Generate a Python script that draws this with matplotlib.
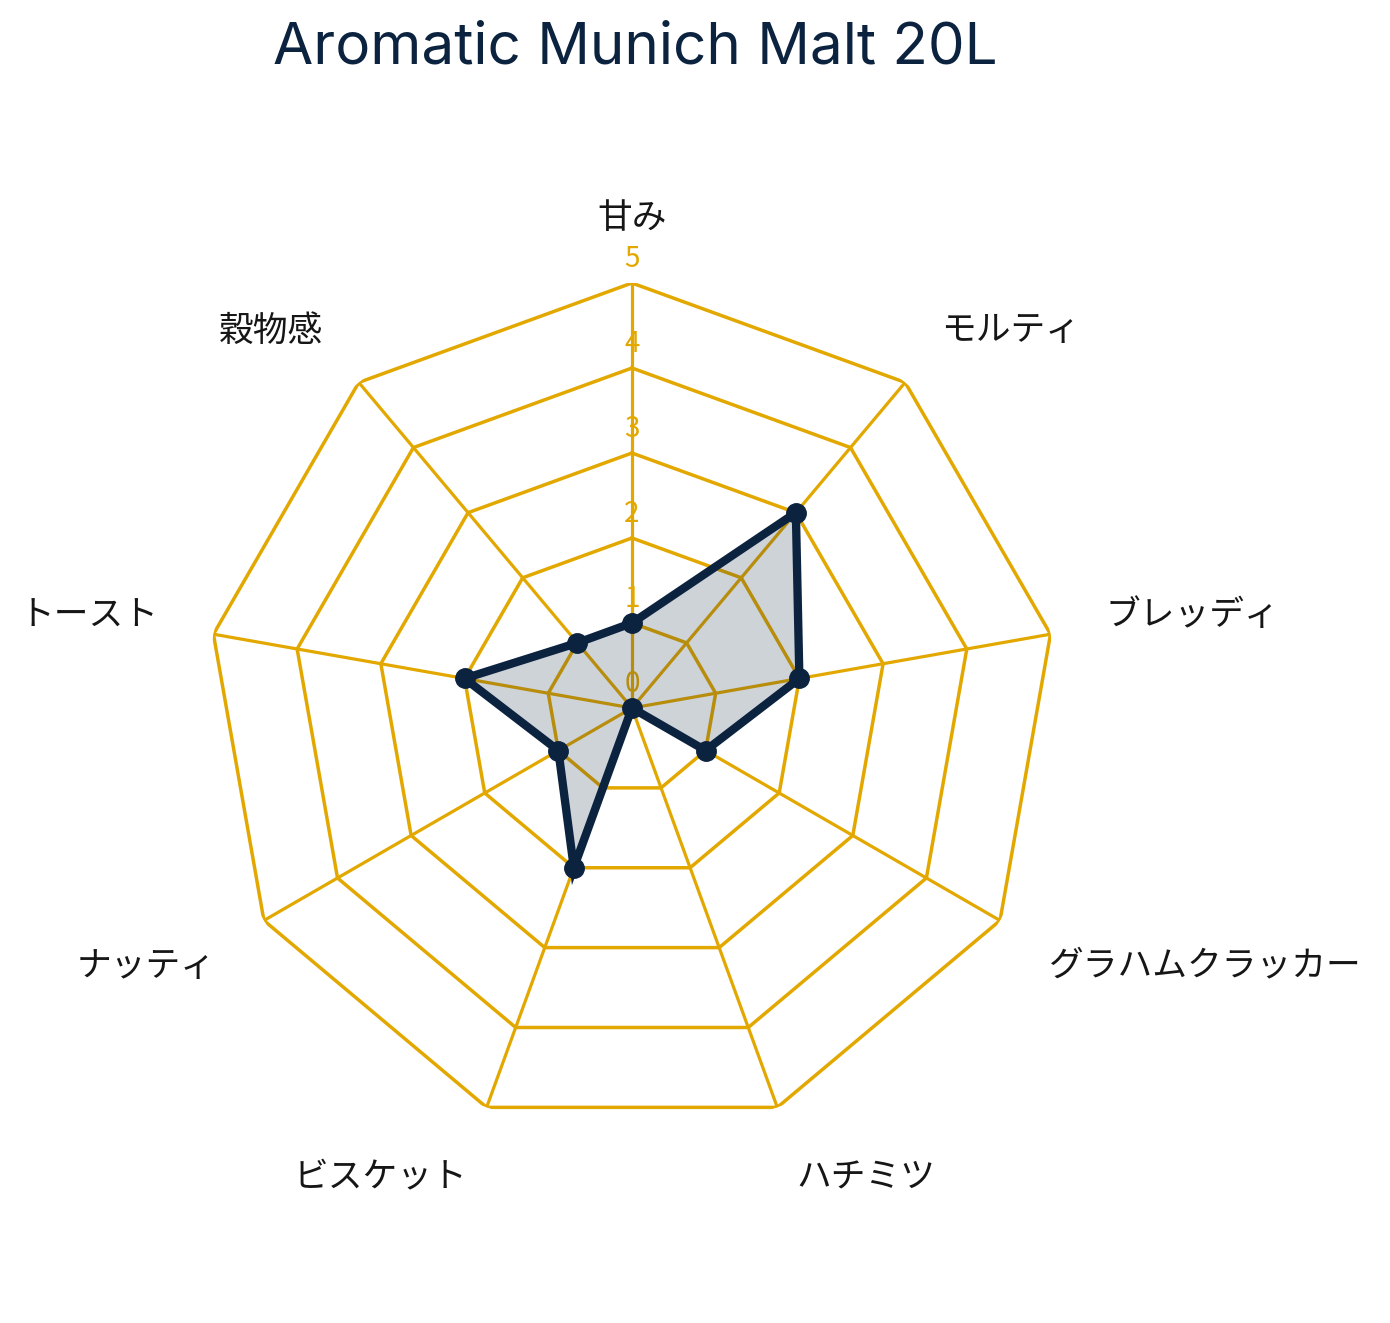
import numpy as np
import matplotlib
matplotlib.use("Agg")
import matplotlib.pyplot as plt

plt.rcParams['font.family'] = ['Noto Sans CJK JP', 'DejaVu Sans']

# data
categories = ['甘み', 'モルティ', 'ブレッディ', 'グラハムクラッカー', 'ハチミツ',
              'ビスケット', 'ナッティ', 'トースト', '穀物感']
values = [1, 3, 2, 1, 0, 2, 1, 2, 1]
levels = [1, 2, 3, 4, 5]
tick_labels = ['0', '1', '2', '3', '4', '5']
title = 'Aromatic Munich Malt 20L'

GOLD = '#E3A800'
NAVY = '#0C2340'
TEXT = '#161616'

n = len(categories)
angles = np.arange(n) * 2 * np.pi / n
closed = np.append(angles, angles[0])

fig = plt.figure(figsize=(13.9, 13.23), dpi=100)
ax = fig.add_axes([0.1489, 0.1436, 0.6115, 0.6425], projection='polar')
ax.set_theta_offset(np.pi / 2)
ax.set_theta_direction(-1)
ax.set_ylim(0, 5)
ax.grid(False)
ax.spines['polar'].set_visible(False)
ax.set_xticks([])
ax.set_yticks([])
ax.patch.set_alpha(0)

# polygon grid
for lv in levels:
    ax.plot(closed, [lv] * (n + 1), color=GOLD, lw=2.5, zorder=1,
            solid_joinstyle='miter')
for a in angles:
    ax.plot([a, a], [0, 5], color=GOLD, lw=2.3, zorder=1)

# radial tick labels
for i, t in enumerate(tick_labels):
    ax.annotate(t, xy=(0, i), xytext=(0, 17), textcoords='offset points',
                ha='center', va='center', fontsize=20, color=GOLD, zorder=2)

# data
vals = np.append(values, values[0])
ax.fill(closed, vals, color=NAVY, alpha=0.2, zorder=3, lw=0)
ax.plot(closed, vals, color=NAVY, lw=6, zorder=4, solid_joinstyle='miter')
ax.plot(angles, values, 'o', color=NAVY, ms=14, zorder=5)

# category labels (left/right aligned like the reference)
r_lab = 5.66
for a, lab in zip(angles, categories):
    deg = np.degrees(a) % 360
    if np.isclose(deg, 0) or np.isclose(deg, 180):
        ha = 'center'
    elif deg < 180:
        ha = 'left'
    else:
        ha = 'right'
    dy = 0
    if np.isclose(deg, 90) or np.isclose(deg, 270):
        va = 'center'
    elif deg < 90 or deg > 270:
        va = 'bottom'
        dy = -6.5
    else:
        va = 'top'
    ax.annotate(lab, xy=(a, r_lab), xytext=(0, dy), textcoords='offset points',
                ha=ha, va=va, fontsize=25, color=TEXT, annotation_clip=False)

fig.text(0.457, 0.963, title, ha='center', va='center', fontsize=42,
         color=NAVY, family=['Inter', 'DejaVu Sans'])

fig.savefig('out.png', dpi=100, facecolor='white')
